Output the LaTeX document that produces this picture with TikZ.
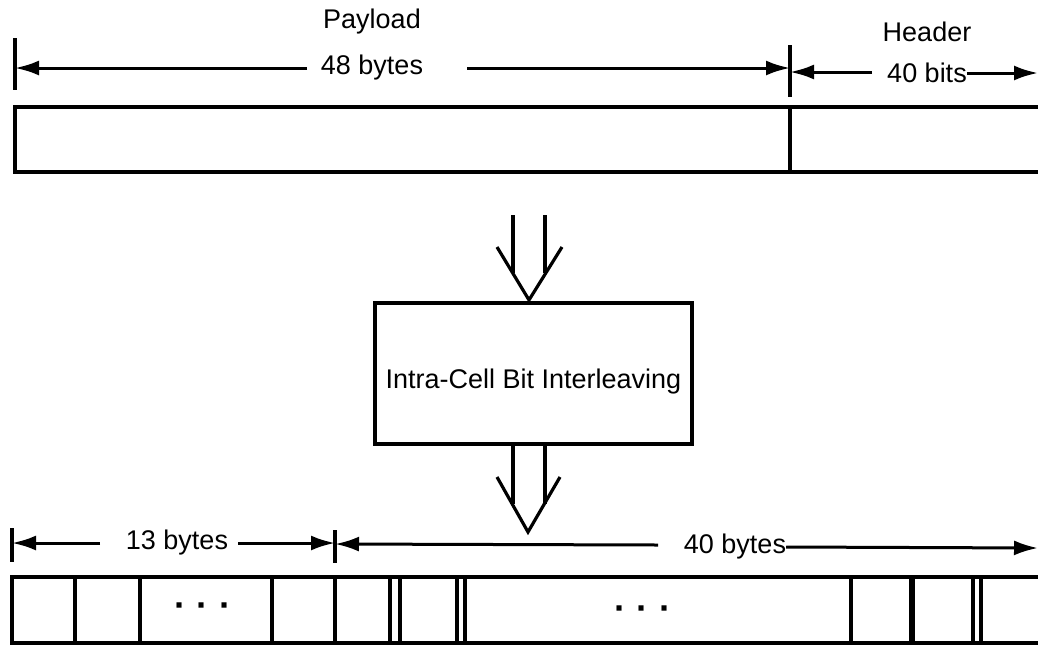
\documentclass[tikz,border=0pt]{standalone}
\usepackage{fontspec}
\setmainfont{Liberation Sans}
\usetikzlibrary{arrows.meta}
\begin{document}
\begin{tikzpicture}[x=1pt,y=-1pt,
  ln/.style={line width=3.2pt},
  dim/.style={line width=3pt,-{Latex[length=24pt,width=15pt]}},
  lbl/.style={font=\fontsize{27}{30}\selectfont,inner sep=0pt},
  dots/.style={font=\fontsize{36}{36}\selectfont\bfseries,inner sep=0pt}]
\useasboundingbox (0,0) rectangle (1038,646);
% ---------- top cell ----------
\node[lbl] (payload) at (372,22) {Payload};
\node[lbl] (b48) at (372,68) {48 bytes};
\node[lbl] (header) at (927,32) {Header};
\node[lbl] (bits) at (927,73) {40 bits};
\coordinate (tl1) at (15,38); \coordinate (tl2) at (15,90);
\coordinate (tm1) at (790,45); \coordinate (tm2) at (790,97);
\draw[ln] (tl1) -- (tl2);
\draw[ln] (tm1) -- (tm2);
\coordinate (pl) at (307,68); \coordinate (pr) at (467,68);
\draw[dim] (pl) -- (tl1|-pl);
\draw[dim] (pr) -- (tm1|-pr);
\coordinate (hl) at (872,72);
\draw[dim] (hl) -- (tm1|-hl);
\draw[dim] (bits.east) -- (1038,73);
% cell
\draw[ln] (1040,107) -- (15,107) -- (15,172) -- (1040,172);
\draw[ln] (790,107) -- (790,172);
% ---------- interleaver ----------
\node[draw,ln,minimum width=317pt,minimum height=141pt,inner sep=0pt] (box) at (533.5,373.5) {};
\node[lbl] (boxtxt) at (533.5,382) {Intra-Cell Bit Interleaving};
% input double arrow
\draw[ln] (513,215) -- (513,273);
\draw[ln] (545,215) -- (545,273);
\draw[ln,line join=miter] (497,247) -- (529,300) -- (562,247);
% output double arrow
\draw[ln] (513,444) -- (513,504);
\draw[ln] (545,444) -- (545,504);
\draw[ln,line join=miter] (497,477) -- (528,532) -- (560,477);
% ---------- bottom cells ----------
\node[lbl] (b13) at (177,543) {13 bytes};
\node[lbl] (b40) at (735,547) {40 bytes};
\coordinate (bl1) at (12,528); \coordinate (bl2) at (12,562);
\coordinate (bm1) at (335,530); \coordinate (bm2) at (335,563);
\draw[ln] (bl1) -- (bl2);
\draw[ln] (bm1) -- (bm2);
\coordinate (cl) at (100,543); \coordinate (cr) at (238,543);
\draw[dim] (cl) -- (bl1|-cl);
\draw[dim] (cr) -- (bm1|-cr);
\coordinate (dl) at (658,545);
\draw[dim] (dl) -- (335,544);
\draw[dim] (b40.east) -- (1038,548);
\draw[ln] (1040,577) -- (12,577) -- (12,643) -- (1040,643);
\foreach \x in {75,140,272,335,390,400,457,465,851,973,981}
  \draw[ln] (\x,577) -- (\x,643);
\draw[line width=6pt] (912,577) -- (912,643);
\node[dots] (dots1) at (203,610) {·\hspace{11pt}·\hspace{11pt}·};
\node[dots] (dots2) at (643,613) {·\hspace{11pt}·\hspace{11pt}·};
\end{tikzpicture}
\end{document}
